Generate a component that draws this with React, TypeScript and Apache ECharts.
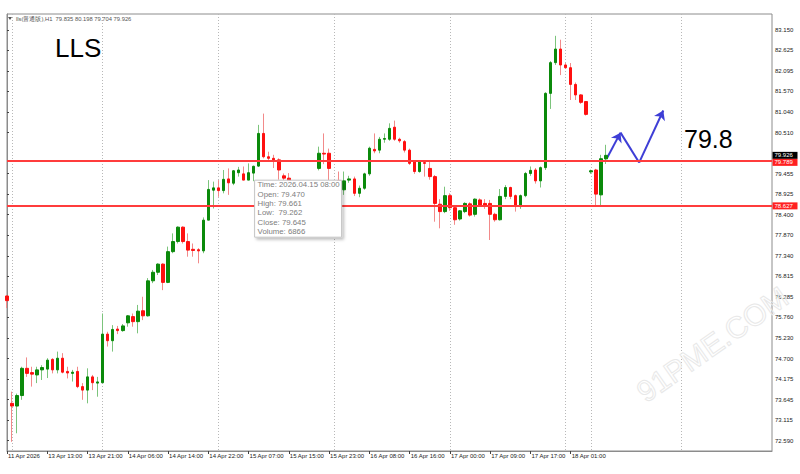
import React, { useEffect, useRef } from "react";
import * as echarts from "echarts";

// ---------- data ----------
const symbolTitle = "lls(普通版),H1";
const timeLabels = [
  "11 Apr 2026", "13 Apr 13:00", "13 Apr 21:00", "14 Apr 06:00", "14 Apr 14:00",
  "14 Apr 22:00", "15 Apr 07:00", "15 Apr 15:00", "15 Apr 23:00", "16 Apr 08:00",
  "16 Apr 16:00", "17 Apr 00:00", "17 Apr 09:00", "17 Apr 17:00", "18 Apr 01:00",
];
const BARS_PER_LABEL = 8;
const TOTAL_SLOTS = 153;

const opens = [
  76.31, 73.55, 73.48, 73.75, 74.45, 74.34, 74.28, 74.41, 74.43, 74.68,
  74.41, 74.71, 74.37, 74.32, 74.37, 73.98, 73.89, 74.23, 74.07, 74.08,
  75.33, 75.16, 75.46, 75.42, 75.62, 75.78, 75.65, 75.93, 75.80, 76.70,
  76.92, 77.13, 76.66, 77.45, 77.71, 78.08, 77.71, 77.51, 77.50, 77.47,
  78.26, 79.03, 79.09, 79.02, 79.32, 79.21, 79.48, 79.45, 79.29, 79.470,
  79.65, 80.49, 79.89, 79.85, 79.81, 79.40, 79.34, 79.20, 79.05, 79.15,
  79.08, 79.22, 79.59, 79.98, 79.98, 79.25, 79.28, 79.04, 79.29, 79.32,
  78.95, 79.08, 79.45, 80.08, 80.06, 80.34, 80.34, 80.65, 80.34, 80.28,
  80.06, 79.76, 79.51, 79.74, 79.59, 79.38, 78.67, 78.48, 78.89, 78.58,
  78.29, 78.48, 78.68, 78.41, 78.78, 78.69, 78.69, 78.41, 78.27, 78.87,
  79.10, 78.89, 78.61, 78.89, 79.46, 79.55, 79.27, 79.61, 81.52, 82.31,
  82.66, 82.25, 82.18, 81.75, 81.48, 81.31, 79.50, 79.55, 78.91, 79.835,
];
const highs = [
  76.33, 73.85, 73.80, 74.49, 74.73, 74.49, 74.49, 74.53, 74.71, 74.71,
  74.88, 74.84, 74.49, 74.41, 74.49, 74.07, 74.45, 74.28, 74.23, 75.86,
  75.39, 75.56, 75.54, 75.59, 75.82, 75.86, 76.08, 76.29, 76.77, 76.98,
  77.15, 77.15, 77.58, 77.92, 78.10, 78.10, 77.92, 77.66, 77.54, 78.33,
  79.29, 79.25, 79.29, 79.55, 79.59, 79.55, 79.63, 79.64, 79.72, 79.661,
  80.71, 81.00, 80.02, 79.94, 79.85, 79.46, 79.47, 79.26, 79.22, 79.25,
  79.27, 79.28, 80.15, 80.49, 80.10, 79.28, 79.51, 79.51, 79.40, 79.38,
  79.15, 79.48, 80.15, 80.49, 80.40, 80.49, 80.75, 80.82, 80.38, 80.32,
  80.10, 79.80, 79.80, 79.80, 79.76, 79.42, 78.80, 79.12, 78.95, 78.62,
  78.52, 78.72, 78.72, 78.82, 78.82, 78.80, 78.78, 78.45, 79.06, 79.16,
  79.12, 78.92, 78.92, 79.50, 79.64, 79.60, 79.64, 81.55, 82.35, 83.00,
  82.90, 82.30, 82.30, 81.80, 81.50, 81.32, 79.56, 79.58, 79.94, 80.198,
];
const lows = [
  76.00, 72.56, 72.78, 73.64, 74.23, 73.98, 74.07, 74.15, 74.20, 74.32,
  74.32, 74.32, 74.19, 74.11, 73.94, 73.64, 73.55, 73.89, 73.72, 74.07,
  75.01, 74.88, 75.33, 75.39, 75.52, 75.52, 75.35, 75.69, 75.78, 76.64,
  76.85, 76.46, 76.64, 77.41, 77.66, 77.66, 77.32, 77.32, 77.15, 77.41,
  78.26, 78.56, 78.86, 78.95, 78.91, 79.16, 79.38, 79.29, 79.29, 79.262,
  79.63, 79.85, 79.76, 79.60, 79.30, 79.28, 79.10, 78.95, 78.90, 79.00,
  79.02, 79.10, 79.54, 79.70, 79.29, 78.95, 79.10, 78.91, 79.22, 78.88,
  78.85, 79.04, 79.40, 79.98, 79.98, 80.25, 80.30, 80.30, 80.25, 80.00,
  79.68, 79.45, 79.48, 79.38, 79.30, 78.22, 78.05, 78.44, 78.50, 78.14,
  78.25, 78.44, 78.35, 78.35, 78.60, 78.55, 77.75, 78.22, 78.25, 78.80,
  78.80, 78.48, 78.55, 78.85, 79.40, 79.20, 79.10, 79.55, 81.12, 82.25,
  81.99, 82.15, 81.35, 81.35, 81.25, 80.95, 79.45, 78.65, 78.64, 79.704,
];
const closes = [
  76.19, 73.48, 73.75, 74.45, 74.32, 74.30, 74.41, 74.47, 74.66, 74.41,
  74.71, 74.35, 74.33, 74.35, 73.98, 73.89, 74.23, 74.08, 74.10, 75.33,
  75.16, 75.45, 75.42, 75.54, 75.80, 75.65, 75.92, 75.80, 76.70, 76.92,
  77.13, 76.66, 77.45, 77.71, 78.08, 77.71, 77.49, 77.48, 77.47, 78.26,
  79.05, 79.09, 79.02, 79.31, 79.22, 79.53, 79.55, 79.29, 79.48, 79.645,
  80.49, 79.89, 79.85, 79.81, 79.55, 79.34, 79.20, 79.05, 79.15, 79.08,
  79.22, 79.25, 79.98, 79.96, 79.59, 79.05, 79.20, 79.27, 79.32, 78.95,
  79.08, 79.45, 80.11, 80.04, 80.34, 80.36, 80.62, 80.34, 80.30, 80.06,
  79.72, 79.51, 79.76, 79.72, 79.38, 78.69, 78.48, 78.89, 78.58, 78.27,
  78.50, 78.69, 78.39, 78.80, 78.65, 78.65, 78.41, 78.27, 78.87, 79.10,
  78.87, 78.61, 78.89, 79.46, 79.54, 79.27, 79.61, 81.52, 82.31, 82.66,
  82.25, 82.18, 81.75, 81.48, 81.29, 80.98, 79.53, 78.93, 79.84, 79.926,
];

const priceLabels = [
  "72.590", "73.115", "73.645", "74.175", "74.700", "75.230", "75.760",
  "76.285", "76.815", "77.340", "77.870", "78.400", "78.925", "79.455",
  "80.510", "81.040", "81.570", "82.095", "82.625", "83.150",
];
const Y_MIN = 72.324;
const Y_MAX = 83.561;

const levels = [79.789, 78.627];
const gridLineBars = [1, 19, 42, 65, 88, 111, 116, 134];
// hand-drawn projection arrows: [bar position, price]
const arrowPoints = [
  [119.2, 79.85],
  [121.9, 80.51],
  [125.6, 79.74],
  [130.4, 81.08],
];
const targetText = "79.8";
const titleText = "LLS";
const tooltipBar = 49;
const tooltipTime = "2026.04.15 08:00";
const tooltipVolume = 6866;

// ---------- styles ----------
const UP = "#0b8a0b";
const DOWN = "#ff1010";
const UP_WICK = "#7cc47c";
const DOWN_WICK = "#f28a8a";
const FONT = "Liberation Sans";

export default function App() {
  const ref = useRef<HTMLDivElement>(null);

  useEffect(() => {
    const el = ref.current!;
    const chart = echarts.init(el, null, { renderer: "svg" });

    const categories = Array.from({ length: TOTAL_SLOTS }, (_, i) => String(i));
    const isLabelSlot = (i: number) =>
      i % BARS_PER_LABEL === 0 && i / BARS_PER_LABEL < timeLabels.length;

    const wickData = opens.map((o, i) => [o, closes[i], lows[i], highs[i]]);
    const bodyData = opens.map((o, i) => [
      o,
      closes[i],
      Math.min(o, closes[i]),
      Math.max(o, closes[i]),
    ]);
    const priceValues = priceLabels.map(Number);

    chart.setOption({
      animation: false,
      textStyle: { fontFamily: FONT },
      grid: {
        left: 7,
        top: 14,
        width: 765,
        height: 437,
        show: true,
        borderColor: "#8c8c8c",
        borderWidth: 1,
        containLabel: false,
        outerBoundsMode: "none",
      },
      xAxis: [
        {
          type: "category",
          data: categories,
          boundaryGap: false,
          axisLine: { show: true, lineStyle: { color: "#8c8c8c" } },
          axisTick: {
            show: true,
            length: 3,
            interval: (i: number) => isLabelSlot(i),
            lineStyle: { color: "#444" },
          },
          axisLabel: {
            show: true,
            interval: (i: number) => isLabelSlot(i),
            formatter: (_v: string, i: number) =>
              timeLabels[i / BARS_PER_LABEL] ?? "",
            align: "left",
            fontSize: 6,
            margin: 2,
            color: "#222",
            fontFamily: FONT,
            padding: [0, 0, 0, 1],
          },
          splitLine: {
            show: true,
            interval: (i: number) => gridLineBars.includes(i),
            lineStyle: { color: "#b8b8b8", type: [1, 2], width: 1 },
          },
        },
        {
          type: "value",
          min: 0,
          max: TOTAL_SLOTS - 1,
          show: false,
          gridIndex: 0,
        },
      ],
      yAxis: {
        type: "value",
        position: "right",
        min: Y_MIN,
        max: Y_MAX,
        splitLine: { show: false },
        axisLine: { show: true, lineStyle: { color: "#8c8c8c" } },
        axisTick: {
          show: true,
          length: 2,
          customValues: priceValues,
          lineStyle: { color: "#444" },
        },
        axisLabel: {
          customValues: priceValues,
          formatter: (v: number) => Number(v).toFixed(3),
          fontSize: 6,
          margin: 3,
          color: "#222",
          fontFamily: FONT,
        },
      },
      series: [
        {
          type: "candlestick",
          name: "wick",
          data: wickData,
          barWidth: 1,
          silent: true,
          itemStyle: {
            color: UP_WICK,
            color0: DOWN_WICK,
            borderColor: UP_WICK,
            borderColor0: DOWN_WICK,
            borderColorDoji: DOWN_WICK,
            borderWidth: 1,
          },
        },
        {
          type: "candlestick",
          name: "body",
          data: bodyData,
          barWidth: 3,
          silent: true,
          itemStyle: {
            color: UP,
            color0: DOWN,
            borderColor: UP,
            borderColor0: DOWN,
            borderColorDoji: DOWN,
            borderWidth: 1,
          },
          markLine: {
            silent: true,
            symbol: ["none", "none"],
            label: { show: false },
            lineStyle: { color: "#ff3c3c", width: 2, type: "solid" },
            data: levels.map((v) => ({ yAxis: v })),
          },
        },
        {
          type: "lines",
          coordinateSystem: "cartesian2d",
          xAxisIndex: 1,
          yAxisIndex: 0,
          symbol: ["none", "arrow"],
          symbolSize: 9,
          silent: true,
          lineStyle: { color: "#3e3ed6", width: 2, opacity: 1, curveness: 0 },
          data: [
            { coords: [arrowPoints[0], arrowPoints[1]] },
            { coords: [arrowPoints[2], arrowPoints[3]] },
          ],
        },
        {
          type: "lines",
          coordinateSystem: "cartesian2d",
          xAxisIndex: 1,
          yAxisIndex: 0,
          symbol: "none",
          silent: true,
          lineStyle: { color: "#3e3ed6", width: 2, opacity: 1, curveness: 0 },
          data: [{ coords: [arrowPoints[1], arrowPoints[2]] }],
        },
      ],
    });

    // ---------- overlays positioned through the axes ----------
    const yPix = (v: number) => chart.convertToPixel({ yAxisIndex: 0 }, v) as number;
    const xPix = (i: number) => chart.convertToPixel({ xAxisIndex: 0 }, i) as number;
    const last = opens.length - 1;
    const lastClose = closes[last];
    const tagX = 772.5;
    const tagW = 25;
    const tagH = 7;
    const blackY = yPix(lastClose);
    const tags: any[] = [];
    tags.push({
      type: "rect",
      shape: { x: tagX, y: blackY - tagH / 2, width: tagW, height: tagH },
      style: { fill: "#000" },
      z: 50,
    });
    tags.push({
      type: "text",
      x: tagX + 2,
      y: blackY,
      style: {
        text: lastClose.toFixed(3),
        fill: "#fff",
        fontSize: 6,
        fontFamily: FONT,
        align: "left",
        verticalAlign: "middle",
        textAlign: "left",
        textVerticalAlign: "middle",
      },
      z: 51,
    });
    levels.forEach((lv) => {
      let cy = yPix(lv);
      if (Math.abs(cy - blackY) < tagH) cy = Math.max(cy, blackY + tagH);
      tags.push({
        type: "rect",
        shape: { x: tagX, y: cy - tagH / 2, width: tagW, height: tagH },
        style: { fill: "#ff2020" },
        z: 50,
      });
      tags.push({
        type: "text",
        x: tagX + 2,
        y: cy,
        style: {
          text: lv.toFixed(3),
          fill: "#fff",
          fontSize: 6,
          fontFamily: FONT,
          align: "left",
          verticalAlign: "middle",
          textAlign: "left",
          textVerticalAlign: "middle",
        },
        z: 51,
      });
    });

    const tipX = xPix(tooltipBar) + 1;
    const tipY = yPix(lows[tooltipBar]) - 1;
    const tipLines = [
      `Time: ${tooltipTime}`,
      `Open: ${opens[tooltipBar].toFixed(3)}`,
      `High: ${highs[tooltipBar].toFixed(3)}`,
      `Low:  ${lows[tooltipBar].toFixed(3)}`,
      `Close: ${closes[tooltipBar].toFixed(3)}`,
      `Volume: ${tooltipVolume}`,
    ];
    const tooltip = {
      type: "group",
      x: tipX,
      y: tipY,
      z: 60,
      children: [
        {
          type: "rect",
          shape: { x: 0, y: 0, width: 87, height: 57 },
          style: {
            fill: "#fff",
            stroke: "#c4c4c4",
            lineWidth: 1,
            shadowBlur: 3,
            shadowColor: "rgba(0,0,0,0.25)",
            shadowOffsetX: 2,
            shadowOffsetY: 2,
          },
          z: 60,
        },
        ...tipLines.map((t, i) => ({
          type: "text",
          x: 3,
          y: 4.5 + i * 9.35,
          z: 61,
          style: {
            text: t,
            fill: "#7d7d7d",
            fontSize: 7.8,
            fontFamily: FONT,
            align: "left",
            verticalAlign: "middle",
            textAlign: "left",
            textVerticalAlign: "middle",
          },
        })),
      ],
    };

    const header = `${symbolTitle}  ${opens[last].toFixed(3)} ${highs[last].toFixed(3)} ${lows[last].toFixed(3)} ${lastClose.toFixed(3)}`;

    chart.setOption({
      graphic: [
        {
          type: "polygon",
          shape: { points: [[8, 17], [12, 17], [10, 20]] },
          style: { fill: "#555" },
          z: 40,
        },
        {
          type: "text",
          x: 16,
          y: 19,
          z: 40,
          style: {
            text: header,
            fill: "#555",
            fontSize: 5.8,
            fontFamily: FONT,
            align: "left",
            verticalAlign: "middle",
            textAlign: "left",
            textVerticalAlign: "middle",
          },
        },
        {
          type: "text",
          x: 55,
          y: 48,
          z: 40,
          style: {
            text: titleText,
            fill: "#000",
            fontSize: 26,
            fontFamily: FONT,
            align: "left",
            verticalAlign: "middle",
            textAlign: "left",
            textVerticalAlign: "middle",
          },
        },
        {
          type: "text",
          x: 684,
          y: 139,
          z: 40,
          style: {
            text: targetText,
            fill: "#000",
            fontSize: 25,
            fontFamily: FONT,
            align: "left",
            verticalAlign: "middle",
            textAlign: "left",
            textVerticalAlign: "middle",
          },
        },
        {
          type: "text",
          x: 640,
          y: 395,
          rotation: (35 * Math.PI) / 180,
          z: 1,
          style: {
            text: "91PME.COM",
            fill: "rgba(255,255,255,0)",
            stroke: "#e8e8e8",
            lineWidth: 1,
            fontSize: 30,
            fontFamily: FONT,
            align: "left",
            verticalAlign: "middle",
            textAlign: "left",
            textVerticalAlign: "middle",
          },
        },
        ...tags,
        tooltip,
      ],
    });

    return () => chart.dispose();
  }, []);

  return (
    <div
      ref={ref}
      style={{
        position: "absolute",
        left: 0,
        top: 0,
        width: 800,
        height: 474,
        background: "#fff",
      }}
    />
  );
}
